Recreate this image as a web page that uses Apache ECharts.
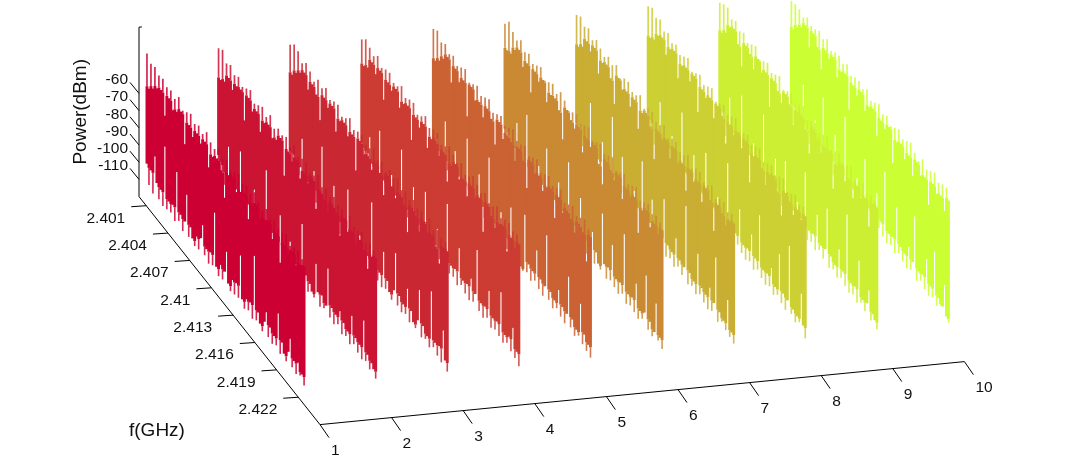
<!DOCTYPE html>
<html><head><meta charset="utf-8">
<style>html,body{margin:0;padding:0;background:#fff}#c{width:1068px;height:466px}</style>
<script src="https://cdn.jsdelivr.net/npm/echarts@6/dist/echarts.min.js"></script>
</head><body><div id="c"></div>
<script>
const timeTicks=[1,2,3,4,5,6,7,8,9,10];
const freqTicks=[2.401,2.404,2.407,2.41,2.413,2.416,2.419,2.422];
const powerTicks=[-60,-70,-80,-90,-100,-110];
const colors=['#cc0033','#cb1433','#c92833','#cc3c33','#cb6233','#c98a33','#c9ae33','#ccd033','#ccef33','#ccff33'];
const fStart=2.4011, fEnd=2.4228;
const high1=[-31,-50,-34,-47,-33,-44,-35,-42,-34,-54,-36,-41,-35,-45,-37,-43,-33,-40,-38,-56,-36,-42,-34,-46,-37,-41,-35,-44,-37,-40,-33,-52,-36,-43,-37,-41,-34,-45,-37,-58,-35,-42,-38,-40,-36,-46,-34,-43,-37,-41,-35,-53,-37,-42,-33,-39,-36,-44,-38,-42,-34,-40,-37,-47,-35,-41,-37,-55,-36,-42,-34,-44,-38,-40,-36,-45,-35,-42,-37,-40];
const high2=[-32,-49,-30,-47,-35,-42,-33,-46,-36,-41,-34,-40,-37,-55,-35,-39,-33,-44,-38,-41,-36,-50,-34,-42,-37,-40,-33,-45,-38,-43,-35,-39,-36,-58,-34,-41,-37,-44,-33,-40,-37,-48,-35,-42,-34,-45,-38,-39,-36,-54,-33,-41,-37,-43,-35,-47,-37,-40,-34,-42,-36,-52,-35,-39,-38,-44,-33,-41,-37,-46,-36,-40,-34,-43,-37,-51,-35,-41,-36,-39];
const high3=[-34,-50,-31,-46,-32,-43,-36,-40,-33,-47,-35,-41,-38,-44,-34,-56,-36,-40,-33,-43,-37,-39,-35,-51,-34,-42,-38,-40,-36,-45,-33,-41,-37,-59,-35,-39,-34,-44,-37,-42,-36,-47,-33,-40,-37,-43,-35,-53,-38,-39,-34,-42,-36,-46,-33,-41,-37,-44,-35,-57,-37,-40,-34,-42,-36,-48,-35,-39,-38,-43,-33,-41,-37,-45,-34,-52,-36,-40,-35,-39];
const high4=[-35,-49,-32,-47,-34,-41,-36,-45,-33,-40,-37,-54,-35,-41,-34,-43,-37,-39,-36,-47,-33,-42,-37,-40,-35,-57,-34,-41,-38,-44,-36,-39,-33,-50,-37,-42,-35,-40,-34,-46,-38,-41,-36,-55,-33,-43,-35,-39,-37,-45,-34,-42,-38,-49,-36,-40,-33,-44,-35,-41,-37,-58,-34,-39,-37,-43,-36,-47,-33,-42,-37,-40,-35,-52,-34,-41,-36,-44,-35,-39];
const high5=[-33,-50,-31,-47,-35,-43,-33,-39,-36,-51,-34,-40,-37,-45,-35,-41,-33,-59,-38,-39,-36,-44,-34,-42,-37,-48,-35,-40,-33,-43,-38,-55,-36,-39,-34,-46,-37,-41,-35,-42,-33,-50,-37,-40,-36,-44,-34,-57,-37,-39,-35,-43,-33,-41,-38,-47,-36,-42,-34,-40,-37,-54,-35,-39,-33,-45,-38,-41,-36,-43,-34,-48,-37,-40,-35,-42,-33,-56,-36,-39];
const high6=[-34,-48,-30,-47,-33,-42,-35,-39,-32,-46,-36,-41,-34,-55,-37,-40,-35,-43,-33,-39,-38,-49,-36,-42,-34,-41,-37,-45,-33,-59,-35,-39,-38,-42,-36,-44,-34,-40,-37,-52,-35,-41,-33,-43,-38,-39,-36,-47,-34,-56,-37,-40,-35,-42,-33,-45,-38,-39,-36,-50,-34,-41,-37,-43,-35,-40,-33,-58,-38,-42,-36,-39,-34,-46,-37,-41,-35,-44,-36,-39];
const high7=[-33,-50,-31,-47,-34,-41,-32,-44,-36,-39,-33,-51,-35,-42,-37,-40,-34,-45,-36,-57,-33,-39,-38,-43,-35,-41,-34,-47,-37,-40,-36,-54,-33,-42,-38,-39,-35,-44,-34,-60,-37,-41,-36,-43,-33,-40,-38,-48,-35,-39,-34,-45,-37,-42,-36,-55,-33,-40,-38,-44,-35,-41,-34,-50,-37,-39,-36,-43,-33,-58,-38,-40,-35,-42,-34,-46,-37,-41,-35,-39];
const high8=[-32,-49,-30,-47,-33,-42,-31,-40,-35,-47,-33,-41,-36,-39,-34,-52,-37,-42,-35,-40,-33,-45,-38,-39,-36,-57,-34,-41,-37,-43,-35,-40,-33,-49,-38,-39,-36,-42,-34,-55,-37,-41,-35,-44,-33,-40,-38,-46,-36,-39,-34,-60,-37,-42,-35,-40,-33,-43,-38,-50,-36,-41,-34,-39,-37,-45,-35,-56,-33,-40,-38,-42,-36,-47,-34,-41,-37,-44,-35,-39];
const high9=[-34,-50,-32,-47,-31,-41,-35,-39,-33,-45,-36,-55,-34,-40,-37,-42,-35,-48,-33,-39,-38,-44,-36,-41,-34,-58,-37,-40,-35,-43,-33,-47,-38,-39,-36,-42,-34,-51,-37,-41,-35,-40,-33,-45,-38,-56,-36,-39,-34,-42,-37,-47,-35,-41,-33,-40,-38,-59,-36,-43,-34,-39,-37,-46,-35,-42,-33,-50,-38,-40,-36,-44,-34,-41,-37,-55,-35,-39,-36,-38];
const high10=[-37,-52,-36,-48,-36,-45,-38,-41,-35,-51,-37,-40,-36,-45,-34,-55,-36,-41,-33,-43,-37,-39,-35,-48,-34,-42,-36,-40,-33,-58,-37,-41,-35,-44,-34,-39,-36,-47,-33,-42,-37,-40,-35,-53,-33,-41,-36,-43,-34,-39,-37,-57,-35,-42,-33,-40,-36,-46,-34,-41,-32,-50,-35,-39,-37,-44,-33,-42,-36,-55,-34,-40,-32,-43,-35,-41,-33,-47,-32,-38];
const low1=[-95,-106,-96,-108,-85,-99,-107,-100,-108,-72,-107,-101,-106,-100,-108,-78,-105,-100,-108,-101,-84,-107,-100,-105,-108,-101,-107,-99,-90,-106,-101,-108,-100,-106,-74,-104,-108,-100,-107,-101,-88,-105,-108,-100,-107,-99,-106,-80,-104,-108,-101,-106,-100,-108,-70,-106,-100,-105,-108,-101,-94,-107,-100,-108,-102,-106,-86,-108,-100,-105,-108,-101,-92,-107,-102,-108,-100,-106,-104,-109];
const low2=[-94,-105,-97,-107,-100,-82,-106,-99,-108,-101,-106,-76,-107,-100,-108,-101,-105,-99,-88,-107,-101,-108,-100,-106,-68,-105,-108,-100,-107,-101,-106,-84,-108,-100,-105,-108,-92,-106,-101,-107,-100,-108,-73,-106,-100,-108,-102,-105,-107,-86,-101,-108,-100,-106,-103,-80,-107,-100,-108,-101,-105,-96,-108,-100,-106,-102,-108,-90,-105,-100,-107,-101,-108,-84,-106,-101,-108,-103,-105,-109];
const low3=[-96,-107,-95,-104,-108,-98,-80,-106,-100,-108,-101,-105,-90,-107,-100,-108,-70,-106,-101,-105,-108,-100,-84,-107,-101,-108,-99,-106,-100,-76,-108,-101,-105,-107,-100,-94,-108,-101,-106,-100,-108,-66,-105,-100,-107,-101,-108,-86,-106,-100,-105,-108,-101,-78,-107,-100,-108,-102,-106,-90,-108,-100,-105,-107,-101,-82,-108,-100,-106,-103,-108,-74,-105,-101,-107,-100,-108,-88,-104,-109];
const low4=[-95,-104,-97,-108,-86,-100,-106,-99,-107,-75,-108,-101,-105,-100,-108,-92,-106,-101,-107,-100,-70,-108,-101,-105,-99,-107,-83,-108,-100,-106,-101,-108,-77,-105,-100,-107,-101,-108,-90,-106,-100,-105,-108,-68,-107,-101,-106,-100,-108,-85,-105,-101,-107,-100,-108,-94,-106,-100,-73,-107,-101,-108,-100,-105,-88,-108,-101,-106,-100,-107,-80,-108,-102,-105,-100,-107,-92,-108,-103,-110];
const low5=[-97,-106,-94,-108,-100,-107,-78,-105,-100,-108,-101,-88,-106,-100,-107,-101,-108,-72,-105,-100,-107,-101,-108,-84,-106,-100,-105,-108,-67,-107,-101,-106,-100,-108,-90,-105,-101,-107,-100,-80,-108,-101,-105,-100,-107,-108,-74,-106,-100,-108,-101,-105,-86,-107,-100,-108,-101,-70,-106,-100,-108,-102,-105,-93,-107,-100,-108,-101,-78,-106,-100,-108,-103,-105,-85,-107,-100,-108,-103,-109];
const low6=[-95,-105,-96,-107,-99,-108,-83,-106,-100,-107,-101,-71,-108,-100,-105,-101,-107,-92,-108,-100,-106,-76,-107,-101,-108,-100,-105,-87,-108,-101,-106,-100,-68,-107,-101,-108,-100,-105,-80,-107,-100,-108,-101,-106,-91,-108,-100,-105,-107,-73,-101,-108,-100,-106,-84,-107,-101,-108,-100,-105,-69,-108,-101,-106,-100,-107,-89,-108,-102,-105,-100,-77,-107,-101,-108,-104,-86,-106,-103,-108];
const low7=[-96,-107,-95,-105,-100,-108,-99,-74,-106,-100,-108,-101,-105,-88,-107,-100,-108,-101,-66,-106,-100,-105,-108,-82,-107,-101,-106,-100,-108,-93,-105,-100,-107,-70,-108,-101,-106,-100,-85,-108,-101,-105,-100,-107,-76,-108,-100,-106,-101,-108,-90,-105,-100,-107,-101,-64,-108,-100,-106,-102,-108,-83,-105,-100,-107,-101,-108,-94,-106,-100,-72,-108,-101,-105,-103,-107,-88,-108,-104,-109];
const low8=[-94,-106,-97,-108,-100,-105,-79,-107,-101,-108,-99,-106,-90,-108,-100,-105,-107,-69,-108,-101,-106,-100,-107,-85,-108,-100,-105,-101,-108,-75,-106,-100,-107,-101,-108,-92,-105,-100,-107,-108,-65,-106,-101,-108,-100,-105,-83,-107,-101,-108,-100,-106,-89,-108,-100,-105,-72,-107,-101,-108,-100,-106,-94,-108,-102,-105,-80,-107,-100,-108,-101,-68,-106,-102,-108,-103,-105,-87,-104,-110];
const low9=[-96,-105,-95,-107,-99,-82,-108,-100,-106,-101,-107,-72,-105,-100,-108,-101,-106,-91,-108,-100,-105,-107,-67,-108,-101,-106,-100,-108,-84,-105,-100,-107,-101,-78,-108,-100,-106,-101,-108,-93,-105,-100,-107,-70,-108,-101,-106,-100,-108,-86,-105,-101,-107,-100,-75,-108,-100,-106,-102,-108,-90,-105,-100,-107,-64,-108,-101,-106,-100,-108,-82,-105,-102,-107,-101,-92,-108,-103,-105,-109];
const low10=[-97,-107,-96,-105,-100,-108,-77,-106,-100,-107,-101,-108,-89,-105,-100,-107,-70,-108,-101,-106,-100,-108,-83,-105,-100,-107,-101,-65,-108,-100,-106,-101,-108,-92,-105,-100,-107,-75,-108,-101,-106,-100,-108,-86,-105,-100,-107,-68,-108,-101,-106,-100,-108,-80,-105,-100,-107,-101,-108,-94,-106,-100,-72,-108,-101,-105,-100,-107,-88,-108,-101,-106,-78,-108,-102,-105,-104,-90,-107,-109];
const highs=[high1,high2,high3,high4,high5,high6,high7,high8,high9,high10];
const lows=[low1,low2,low3,low4,low5,low6,low7,low8,low9,low10];

// oblique projection of the 3-D box onto the plane of the two hidden value axes
const F0=2.4, P0=-120, PTOP=-21.5;
const project=(t,f,p)=>[139+(t-1)*71.6+(f-F0)*7240, 196.6-(t-1)*7+(f-F0)*9120-(p-P0)*1.72];

function ribbon(idx){
  const hi=highs[idx], lo=lows[idx], n=hi.length, t=timeTicks[idx];
  const data=hi.map((h,i)=>{
    const f=fStart+(fEnd-fStart)*i/(n-1);
    const hN=Math.max(i?hi[i-1]:-200,i<n-1?hi[i+1]:-200);
    const lN=Math.min(i?lo[i-1]:0,i<n-1?lo[i+1]:0);
    return [t,f,h,lo[i],Math.min(h,hN),Math.max(lo[i],lN)];
  });
  return {type:'custom',coordinateSystem:'cartesian2d',silent:true,clip:false,z:20-idx,data,
    renderItem(p,api){
      const tt=api.value(0),f=api.value(1);
      const pt=v=>api.coord(project(tt,f,v));
      const c=colors[idx], kids=[];
      const seg=(a,b,w,o)=>{const A=pt(a),B=pt(b);
        kids.push({type:'line',shape:{x1:A[0],y1:A[1],x2:B[0],y2:B[1]},style:{stroke:c,lineWidth:w,opacity:o}});};
      seg(api.value(4),api.value(5),2.9,1);
      if(api.value(2)>api.value(4)) seg(api.value(2),api.value(4),1.7,0.85);
      if(api.value(3)<api.value(5)) seg(api.value(5),api.value(3),1.6,0.85);
      return {type:'group',children:kids};
    }};
}

const ink='#000', font='"Liberation Sans",Arial,sans-serif';
function axisLines(){
  const paths=[
    [[1.04,F0,PTOP],[1,F0,PTOP],[1,F0,P0],[1,2.425,P0],[10,2.425,P0]]
  ];
  return {type:'custom',coordinateSystem:'cartesian2d',silent:true,clip:false,z:30,data:paths.map((_,i)=>[i]),
    renderItem(p,api){
      const pts=paths[api.value(0)].map(q=>api.coord(project(q[0],q[1],q[2])));
      return {type:'polyline',shape:{points:pts},style:{stroke:ink,lineWidth:1,fill:null}};
    }};
}
function tickSeries(vals,toPoint,dx,dy,lx,ly,align){
  return {type:'custom',coordinateSystem:'cartesian2d',silent:true,clip:false,z:30,data:vals.map(v=>[v]),
    renderItem(p,api){
      const v=api.value(0),a=api.coord(toPoint(v));
      return {type:'group',children:[
        {type:'line',shape:{x1:a[0],y1:a[1],x2:a[0]+dx,y2:a[1]+dy},style:{stroke:ink,lineWidth:1}},
        {type:'text',x:a[0]+dx+lx,y:a[1]+dy+ly,style:{text:String(v),fill:'#111',font:'15.5px '+font,align,verticalAlign:'middle'}}
      ]};
    }};
}
const chart=echarts.init(document.getElementById('c'),null,{renderer:'canvas'});
chart.setOption({
  animation:false,backgroundColor:'#fff',
  grid:{left:0,right:0,top:0,bottom:0},
  xAxis:{type:'value',min:0,max:1068,show:false},
  yAxis:{type:'value',min:0,max:466,inverse:true,show:false},
  graphic:[
    {type:'text',left:71,top:59,rotation:Math.PI/2,silent:true,z:40,
     style:{text:'Power(dBm)',fill:'#111',font:'19px '+font},originX:0,originY:0},
    {type:'text',x:129,y:421.5,silent:true,z:40,style:{text:'f(GHz)',fill:'#111',font:'19px '+font}}
  ],
  series:[
    ...colors.map((_,i)=>ribbon(i)),
    axisLines(),
    tickSeries(timeTicks,t=>project(t,2.425,P0),9,13,2,13,'left'),
    tickSeries(freqTicks,f=>project(1,f,P0),-15,1,-6,11.5,'right'),
    tickSeries(powerTicks,v=>project(1,F0,v),-9,-11,-2,-2.5,'right')
  ]
});
</script></body></html>
